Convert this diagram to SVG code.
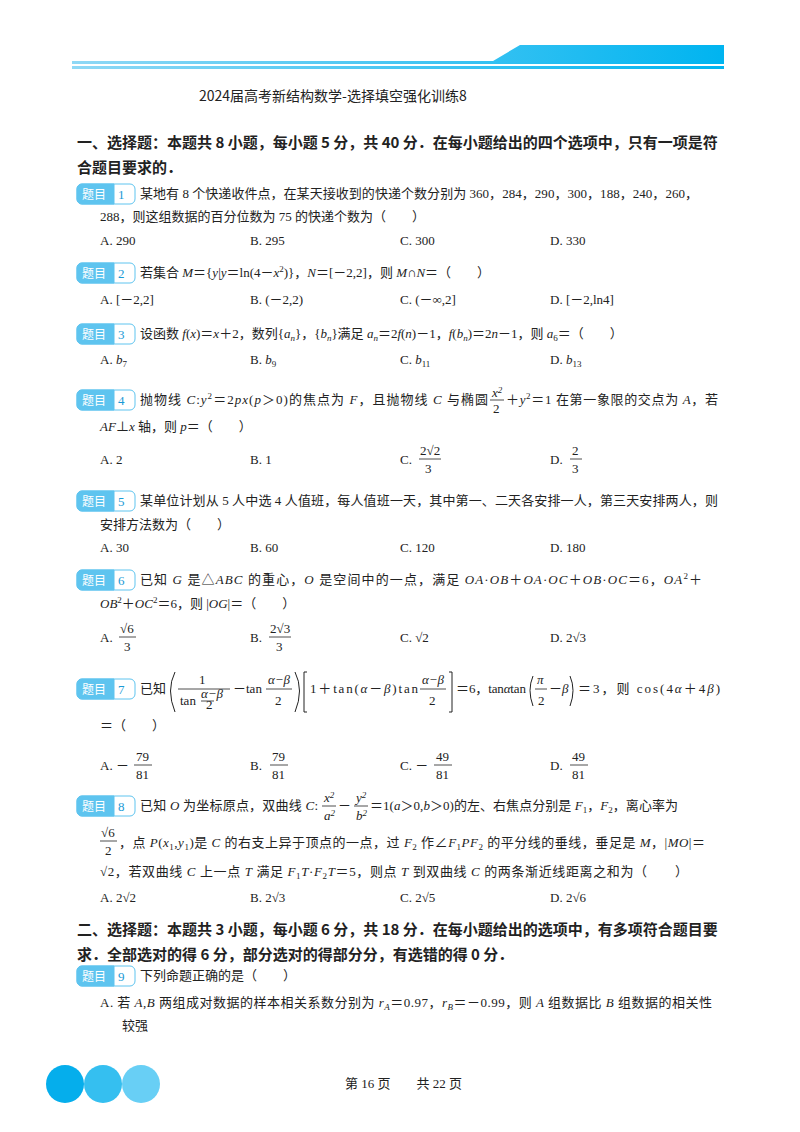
<svg xmlns="http://www.w3.org/2000/svg" width="800" height="1132" viewBox="0 0 800 1132">
<defs>
<linearGradient id="hg" x1="0" x2="1"><stop offset="0" stop-color="#8fd8f5"/><stop offset="1" stop-color="#00b4f0"/></linearGradient>
<style>
text{font-family:"Liberation Serif","Noto Sans CJK SC",serif;font-size:13px;fill:#222}
.b{font-weight:bold;font-size:15px;font-family:"Noto Sans CJK SC",sans-serif}
.t{font-size:14px;font-family:"Noto Sans CJK SC",sans-serif}
.s{font-size:9px}
.lt{fill:#5ec4ef;stroke:#5ec4ef}
.lb{fill:#fff;stroke:#5ec4ef}
.ln{fill:#1a9ad6;font-size:13px}
.lw{fill:#fff;font-size:12px;font-family:"Noto Sans CJK SC",sans-serif}
.fl{stroke:#222;stroke-width:0.8}
.br{fill:none;stroke:#222;stroke-width:1}
</style>
<g id="lbl"><rect x="0" y="0" width="58" height="20" rx="5" class="lb"/><path d="M5 0H37V20H5A5 5 0 0 1 0 15V5A5 5 0 0 1 5 0Z" class="lt"/><text x="5" y="15" class="lw">题目</text></g>
</defs>
<rect width="800" height="1132" fill="#fff"/>
<g id="header">
<path d="M72 61H493L520 45H724V64H72Z" fill="url(#hg)"/>
<rect x="72" y="66" width="652" height="3" fill="url(#hg)"/>
</g>
<text x="199" y="101" class="t">2024届高考新结构数学-选择填空强化训练8</text>
<text x="77" y="148" class="b">一、选择题：本题共 8 小题，每小题 5 分，共 40 分．在每小题给出的四个选项中，只有一项是符</text>
<text x="77" y="173" class="b">合题目要求的．</text>

<g id="q1"><use href="#lbl" x="77" y="184"/><text x="118" y="199" class="ln">1</text>
<text x="140" y="198" textLength="558">某地有 8 个快递收件点，在某天接收到的快递个数分别为 360，284，290，300，188，240，260，</text>
<text x="100" y="221">288，则这组数据的百分位数为 75 的快递个数为（　　）</text>
<text x="100" y="245">A.  290</text><text x="250" y="245">B.  295</text><text x="400" y="245">C.  300</text><text x="550" y="245">D.  330</text></g>

<g id="q2"><use href="#lbl" x="77" y="263"/><text x="118" y="278" class="ln">2</text>
<text x="140" y="277">若集合 <tspan font-style="italic">M</tspan>＝{<tspan font-style="italic">y</tspan>|<tspan font-style="italic">y</tspan>＝ln(4－<tspan font-style="italic">x</tspan><tspan class="s" dy="-5">2</tspan><tspan dy="5">)}，</tspan><tspan font-style="italic">N</tspan>＝[－2,2]，则 <tspan font-style="italic">M</tspan>∩<tspan font-style="italic">N</tspan>＝（　　）</text>
<text x="100" y="304">A.  [－2,2]</text><text x="250" y="304">B.  (－2,2)</text><text x="400" y="304">C.  (－∞,2]</text><text x="550" y="304">D.  [－2,ln4]</text></g>

<g id="q3"><use href="#lbl" x="77" y="324"/><text x="118" y="339" class="ln">3</text>
<text x="140" y="338">设函数 <tspan font-style="italic">f</tspan>(<tspan font-style="italic">x</tspan>)＝<tspan font-style="italic">x</tspan>＋2，数列{<tspan font-style="italic">a<tspan class="s" dy="3">n</tspan></tspan><tspan dy="-3">}，{</tspan><tspan font-style="italic">b<tspan class="s" dy="3">n</tspan></tspan><tspan dy="-3">}满足 </tspan><tspan font-style="italic">a<tspan class="s" dy="3">n</tspan></tspan><tspan dy="-3">＝2</tspan><tspan font-style="italic">f</tspan>(<tspan font-style="italic">n</tspan>)－1，<tspan font-style="italic">f</tspan>(<tspan font-style="italic">b<tspan class="s" dy="3">n</tspan></tspan><tspan dy="-3">)＝2</tspan><tspan font-style="italic">n</tspan>－1，则 <tspan font-style="italic">a</tspan><tspan class="s" dy="3">6</tspan><tspan dy="-3">＝（　　）</tspan></text>
<text x="100" y="364">A.  <tspan font-style="italic">b</tspan><tspan class="s" dy="3">7</tspan></text><text x="250" y="364">B.  <tspan font-style="italic">b</tspan><tspan class="s" dy="3">9</tspan></text><text x="400" y="364">C.  <tspan font-style="italic">b</tspan><tspan class="s" dy="3">11</tspan></text><text x="550" y="364">D.  <tspan font-style="italic">b</tspan><tspan class="s" dy="3">13</tspan></text></g>

<g id="q4"><use href="#lbl" x="77" y="390"/><text x="118" y="405" class="ln">4</text>
<text x="140" y="404" textLength="348">抛物线 <tspan font-style="italic">C</tspan>:<tspan font-style="italic">y</tspan><tspan class="s" dy="-5">2</tspan><tspan dy="5">＝2</tspan><tspan font-style="italic">px</tspan>(<tspan font-style="italic">p</tspan>＞0)的焦点为 <tspan font-style="italic">F</tspan>，且抛物线 <tspan font-style="italic">C</tspan> 与椭圆</text>
<text x="492" y="397" font-size="10" font-style="italic">x<tspan class="s" dy="-4">2</tspan></text><line x1="490" y1="400" x2="504" y2="400" class="fl"/><text x="493" y="413" font-size="10">2</text>
<text x="506" y="404" textLength="212">＋<tspan font-style="italic">y</tspan><tspan class="s" dy="-5">2</tspan><tspan dy="5">＝1 在第一象限的交点为 </tspan><tspan font-style="italic">A</tspan>，若</text>
<text x="100" y="431"><tspan font-style="italic">AF</tspan>⊥<tspan font-style="italic">x</tspan> 轴，则 <tspan font-style="italic">p</tspan>＝（　　）</text>
<text x="100" y="464">A.  2</text><text x="250" y="464">B.  1</text><text x="400" y="464">C.</text><text x="420" y="455">2√2</text><line x1="419" y1="459" x2="441" y2="459" class="fl"/><text x="425" y="473">3</text>
<text x="550" y="464">D.</text><text x="572" y="455">2</text><line x1="570" y1="459" x2="582" y2="459" class="fl"/><text x="572" y="473">3</text></g>

<g id="q5"><use href="#lbl" x="77" y="491"/><text x="118" y="506" class="ln">5</text>
<text x="140" y="505" textLength="578">某单位计划从 5 人中选 4 人值班，每人值班一天，其中第一、二天各安排一人，第三天安排两人，则</text>
<text x="100" y="529">安排方法数为（　　）</text>
<text x="100" y="552">A.  30</text><text x="250" y="552">B.  60</text><text x="400" y="552">C.  120</text><text x="550" y="552">D.  180</text></g>

<g id="q6"><use href="#lbl" x="77" y="570"/><text x="118" y="585" class="ln">6</text>
<text x="140" y="584" textLength="562">已知 <tspan font-style="italic">G</tspan> 是△<tspan font-style="italic">ABC</tspan> 的重心，<tspan font-style="italic">O</tspan> 是空间中的一点，满足 <tspan font-style="italic">OA</tspan>·<tspan font-style="italic">OB</tspan>＋<tspan font-style="italic">OA</tspan>·<tspan font-style="italic">OC</tspan>＋<tspan font-style="italic">OB</tspan>·<tspan font-style="italic">OC</tspan>＝6，<tspan font-style="italic">OA</tspan><tspan class="s" dy="-5">2</tspan><tspan dy="5">＋</tspan></text>
<text x="100" y="608"><tspan font-style="italic">OB</tspan><tspan class="s" dy="-5">2</tspan><tspan dy="5">＋</tspan><tspan font-style="italic">OC</tspan><tspan class="s" dy="-5">2</tspan><tspan dy="5">＝6，则 |</tspan><tspan font-style="italic">OG</tspan>|＝（　　）</text>
<text x="100" y="642">A.</text><text x="120" y="633">√6</text><line x1="119" y1="637" x2="136" y2="637" class="fl"/><text x="124" y="651">3</text>
<text x="250" y="642">B.</text><text x="270" y="633">2√3</text><line x1="269" y1="637" x2="291" y2="637" class="fl"/><text x="276" y="651">3</text>
<text x="400" y="642">C.  √2</text><text x="550" y="642">D.  2√3</text></g>

<g id="q7"><use href="#lbl" x="77" y="679"/><text x="118" y="694" class="ln">7</text>
<text x="140" y="693">已知</text>
<path d="M175 672Q166 690 175 712" class="br"/>
<text x="199" y="684">1</text><line x1="178" y1="689" x2="230" y2="689" class="fl"/><text x="180" y="705" font-size="10">tan</text><text x="201" y="698" font-size="7" font-style="italic">α−β</text><line x1="201" y1="701" x2="214" y2="701" class="fl" stroke-width="0.5"/><text x="206" y="709" font-size="7">2</text>
<text x="233" y="693">－tan</text><text x="268" y="684" font-style="italic">α−β</text><line x1="266" y1="689" x2="292" y2="689" class="fl"/><text x="275" y="705">2</text>
<path d="M295 672Q304 690 295 712" class="br"/><path d="M307 672H304V712H307" class="br"/>
<text x="310" y="693" textLength="108">1＋tan(<tspan font-style="italic">α</tspan>－<tspan font-style="italic">β</tspan>)tan</text><text x="422" y="684" font-style="italic">α−β</text><line x1="420" y1="689" x2="446" y2="689" class="fl"/><text x="429" y="705">2</text>
<path d="M449 672H452V712H449" class="br"/>
<text x="456" y="693" textLength="70">＝6，tan<tspan font-style="italic">α</tspan>tan</text><path d="M533 676Q527 690 533 706" class="br"/><text x="537" y="684" font-style="italic">π</text><line x1="535" y1="689" x2="547" y2="689" class="fl"/><text x="538" y="705">2</text><text x="549" y="693">－<tspan font-style="italic">β</tspan></text><path d="M570 676Q576 690 570 706" class="br"/>
<text x="578" y="693" textLength="142">＝3，则 cos(4<tspan font-style="italic">α</tspan>＋4<tspan font-style="italic">β</tspan>)</text>
<text x="100" y="730">＝（　　）</text>
<text x="100" y="770">A.  －</text><text x="136" y="761">79</text><line x1="134" y1="765" x2="152" y2="765" class="fl"/><text x="136" y="779">81</text>
<text x="250" y="770">B.</text><text x="272" y="761">79</text><line x1="270" y1="765" x2="288" y2="765" class="fl"/><text x="272" y="779">81</text>
<text x="400" y="770">C.  －</text><text x="436" y="761">49</text><line x1="434" y1="765" x2="452" y2="765" class="fl"/><text x="436" y="779">81</text>
<text x="550" y="770">D.</text><text x="572" y="761">49</text><line x1="570" y1="765" x2="588" y2="765" class="fl"/><text x="572" y="779">81</text></g>

<g id="q8"><use href="#lbl" x="77" y="796"/><text x="118" y="811" class="ln">8</text>
<text x="140" y="810" textLength="178">已知 <tspan font-style="italic">O</tspan> 为坐标原点，双曲线 <tspan font-style="italic">C</tspan>:</text>
<text x="324" y="802" font-size="11" font-style="italic">x<tspan class="s" dy="-4">2</tspan></text><line x1="322" y1="806" x2="336" y2="806" class="fl"/><text x="324" y="820" font-size="11" font-style="italic">a<tspan class="s" dy="-4">2</tspan></text>
<text x="338" y="810">－</text>
<text x="356" y="802" font-size="11" font-style="italic">y<tspan class="s" dy="-4">2</tspan></text><line x1="354" y1="806" x2="368" y2="806" class="fl"/><text x="356" y="820" font-size="11" font-style="italic">b<tspan class="s" dy="-4">2</tspan></text>
<text x="370" y="810" textLength="308">＝1(<tspan font-style="italic">a</tspan>＞0,<tspan font-style="italic">b</tspan>＞0)的左、右焦点分别是 <tspan font-style="italic">F</tspan><tspan class="s" dy="3">1</tspan><tspan dy="-3">，</tspan><tspan font-style="italic">F</tspan><tspan class="s" dy="3">2</tspan><tspan dy="-3">，离心率为</tspan></text>
<text x="101" y="837">√6</text><line x1="100" y1="841" x2="117" y2="841" class="fl"/><text x="105" y="855">2</text>
<text x="119" y="847" textLength="586">，点 <tspan font-style="italic">P</tspan>(<tspan font-style="italic">x</tspan><tspan class="s" dy="3">1</tspan><tspan dy="-3">,</tspan><tspan font-style="italic">y</tspan><tspan class="s" dy="3">1</tspan><tspan dy="-3">)是 </tspan><tspan font-style="italic">C</tspan> 的右支上异于顶点的一点，过 <tspan font-style="italic">F</tspan><tspan class="s" dy="3">2</tspan><tspan dy="-3"> 作∠</tspan><tspan font-style="italic">F</tspan><tspan class="s" dy="3">1</tspan><tspan font-style="italic" dy="-3">PF</tspan><tspan class="s" dy="3">2</tspan><tspan dy="-3"> 的平分线的垂线，垂足是 </tspan><tspan font-style="italic">M</tspan>，|<tspan font-style="italic">MO</tspan>|＝</text>
<text x="100" y="876" textLength="588">√2，若双曲线 <tspan font-style="italic">C</tspan> 上一点 <tspan font-style="italic">T</tspan> 满足 <tspan font-style="italic">F</tspan><tspan class="s" dy="3">1</tspan><tspan font-style="italic" dy="-3">T</tspan>·<tspan font-style="italic">F</tspan><tspan class="s" dy="3">2</tspan><tspan font-style="italic" dy="-3">T</tspan>＝5，则点 <tspan font-style="italic">T</tspan> 到双曲线 <tspan font-style="italic">C</tspan> 的两条渐近线距离之和为（　　）</text>
<text x="100" y="902">A.  2√2</text><text x="250" y="902">B.  2√3</text><text x="400" y="902">C.  2√5</text><text x="550" y="902">D.  2√6</text></g>

<text x="77" y="935" class="b">二、选择题：本题共 3 小题，每小题 6 分，共 18 分．在每小题给出的选项中，有多项符合题目要</text>
<text x="77" y="960" class="b">求．全部选对的得 6 分，部分选对的得部分分，有选错的得 0 分．</text>

<g id="q9"><use href="#lbl" x="77" y="966"/><text x="118" y="981" class="ln">9</text>
<text x="140" y="980">下列命题正确的是（　　）</text>
<text x="100" y="1007" textLength="612">A.  若 <tspan font-style="italic">A</tspan>,<tspan font-style="italic">B</tspan> 两组成对数据的样本相关系数分别为 <tspan font-style="italic">r<tspan class="s" dy="3">A</tspan></tspan><tspan dy="-3">＝0.97，</tspan><tspan font-style="italic">r<tspan class="s" dy="3">B</tspan></tspan><tspan dy="-3">＝－0.99，则 </tspan><tspan font-style="italic">A</tspan> 组数据比 <tspan font-style="italic">B</tspan> 组数据的相关性</text>
<text x="122" y="1030">较强</text></g>

<g id="footer">
<circle cx="141" cy="1084" r="19" fill="#68cff5"/>
<circle cx="103" cy="1084" r="19" fill="#35bff0"/>
<circle cx="65" cy="1084" r="19" fill="#05aeec"/>
<text x="345" y="1088" font-size="12">第 16 页　　共 22 页</text>
</g>
</svg>
